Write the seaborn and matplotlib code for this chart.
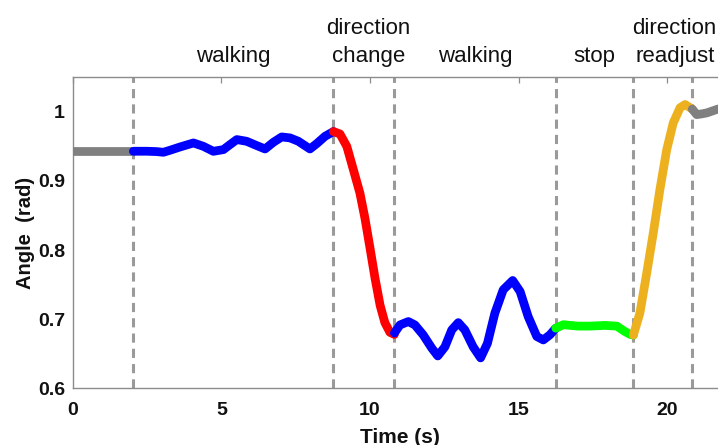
import matplotlib
matplotlib.use("Agg")
import matplotlib.pyplot as plt
import matplotlib.transforms as mtransforms
import numpy as np
import pandas as pd
import seaborn as sns

# ---------------- data ----------------
rest1_t = [0.0, 2.04]
rest1_angle = [0.943, 0.943]

walk1_t = [2.04, 2.49, 2.82, 3.05, 3.27, 3.61, 4.06, 4.39, 4.73, 5.07, 5.29, 5.52,
           5.85, 6.19, 6.47, 6.75, 7.03, 7.31, 7.59, 7.98, 8.21, 8.49, 8.77]
walk1_angle = [0.943, 0.943, 0.9425, 0.9415, 0.9444, 0.9492, 0.955, 0.9502, 0.9429,
               0.9454, 0.9526, 0.9599, 0.9574, 0.9512, 0.9463, 0.956, 0.9637, 0.9623,
               0.9574, 0.9463, 0.9541, 0.9647, 0.9715]

turn_t = [8.77, 8.99, 9.22, 9.44, 9.66, 9.83, 10.0, 10.17, 10.34, 10.50, 10.67, 10.82]
turn_angle = [0.9715, 0.968, 0.950, 0.9164, 0.8826, 0.846, 0.803, 0.759, 0.720,
              0.695, 0.681, 0.678]

walk2_t = [10.82, 11.01, 11.29, 11.51, 11.79, 12.08, 12.28, 12.52, 12.75, 12.97, 13.19,
           13.47, 13.72, 13.95, 14.20, 14.48, 14.80, 15.05, 15.32, 15.61, 15.83, 16.05,
           16.25]
walk2_angle = [0.680, 0.6917, 0.6966, 0.6917, 0.6772, 0.658, 0.6468, 0.660, 0.6845,
               0.695, 0.6845, 0.660, 0.644, 0.665, 0.7087, 0.7425, 0.756, 0.740, 0.7038,
               0.675, 0.670, 0.6773, 0.687]

stop_t = [16.25, 16.5, 17.0, 17.4, 17.9, 18.3, 18.58, 18.75, 18.86]
stop_angle = [0.687, 0.692, 0.690, 0.690, 0.691, 0.690, 0.682, 0.678, 0.677]

readjust_t = [18.86, 19.08, 19.31, 19.53, 19.75, 19.98, 20.2, 20.43, 20.6, 20.84]
readjust_angle = [0.677, 0.709, 0.767, 0.825, 0.887, 0.945, 0.984, 1.006, 1.0106, 1.004]

rest2_t = [20.84, 20.99, 21.15, 21.33, 21.7, 22.0]
rest2_angle = [1.004, 0.996, 0.997, 0.9985, 1.004, 1.006]

segment_names = ["rest1", "walk1", "turn", "walk2", "stop", "readjust", "rest2"]
segment_colors = ["#808080", "#0000ff", "#ff0000", "#0000ff", "#00ff00", "#edb120", "#808080"]

boundaries = [2.02, 8.77, 10.82, 16.25, 18.86, 20.84]

phase_labels = ["walking", "direction\nchange", "walking", "stop", "direction\nreadjust"]
phase_label_x = [5.40, 9.94, 13.53, 17.53, 20.25]

x_ticks = [0, 5, 10, 15, 20]
y_ticks = [0.6, 0.7, 0.8, 0.9, 1.0]
y_tick_labels = ["0.6", "0.7", "0.8", "0.9", "1"]

# ---------------- build table ----------------
seg_t = [rest1_t, walk1_t, turn_t, walk2_t, stop_t, readjust_t, rest2_t]
seg_a = [rest1_angle, walk1_angle, turn_angle, walk2_angle, stop_angle, readjust_angle, rest2_angle]
rows = []
for name, ts, as_ in zip(segment_names, seg_t, seg_a):
    for t, a in zip(ts, as_):
        rows.append({"time": t, "angle": a, "segment": name})
df = pd.DataFrame(rows)

# ---------------- style ----------------
sns.set_theme(style="white")
plt.rcParams["font.family"] = ["Liberation Sans", "DejaVu Sans"]

fig = plt.figure(figsize=(7.18, 4.45), dpi=100)
ax = fig.add_axes([0.1013, 0.1274, 654 / 718, 0.6989])

for b in boundaries:
    ax.axvline(b, color="#9a9a9a", lw=2.2, linestyle=(0, (3, 2)), zorder=1)

sns.lineplot(data=df, x="time", y="angle", hue="segment",
             palette=dict(zip(segment_names, segment_colors)),
             hue_order=segment_names, estimator=None, sort=False,
             linewidth=6.3, legend=False, ax=ax, zorder=3,
             solid_capstyle="round", solid_joinstyle="round")

ax.set_xlim(0, 22)
ax.set_ylim(0.6, 1.05)

ax.set_xticks(x_ticks, [str(v) for v in x_ticks], fontweight="bold")
ax.set_yticks(y_ticks, y_tick_labels, fontweight="bold")
ax.tick_params(axis="both", direction="in", length=4, width=0.9, color="#8c8c8c",
               labelcolor="#111111", labelsize=14, top=True, right=False)
ax.tick_params(axis="x", pad=10)
ax.tick_params(axis="y", pad=5.5)

for side in ["left", "bottom", "top"]:
    ax.spines[side].set_color("#8c8c8c")
    ax.spines[side].set_linewidth(1.0)
    ax.spines[side].set_visible(True)
ax.spines["right"].set_visible(False)

ax.set_xlabel("Time (s)", fontsize=15, fontweight="bold", color="#111111", labelpad=6)
ax.set_ylabel("Angle  (rad)", fontsize=14.5, fontweight="bold", color="#111111")
ax.yaxis.set_label_coords(-0.058, 0.5)

trans = mtransforms.blended_transform_factory(ax.transData, ax.transAxes)
line_y = [1.0502, 1.1383]
for lbl, x in zip(phase_labels, phase_label_x):
    lines = lbl.split("\n")[::-1]
    for i, ln in enumerate(lines):
        ax.text(x, line_y[i], ln, transform=trans, ha="center", va="baseline",
                fontsize=16, color="#111111", clip_on=False)

fig.savefig("out.png", dpi=100)
